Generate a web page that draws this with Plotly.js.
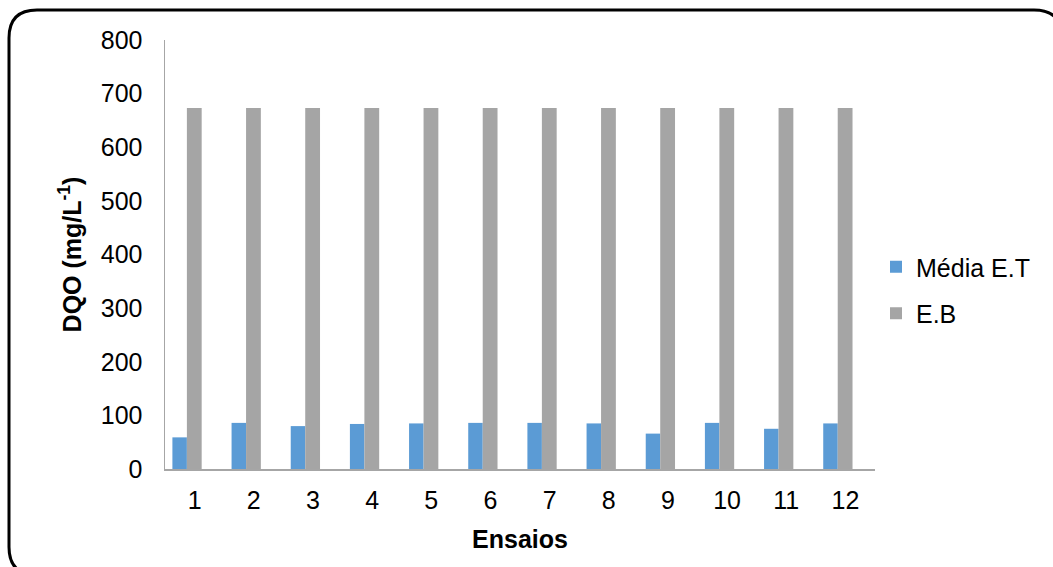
<!DOCTYPE html>
<html>
<head>
<meta charset="utf-8">
<script src="https://cdn.plot.ly/plotly-3.0.1.min.js"></script>
<style>
html,body{margin:0;padding:0;background:#fff;}
#chart{width:1053px;height:567px;}
</style>
</head>
<body>
<div id="chart"></div>
<script>
const categories = ['1','2','3','4','5','6','7','8','9','10','11','12'];
const mediaET = [59, 86, 80, 84, 85, 86, 86, 85, 66, 86, 75, 85];
const eb = [673, 673, 673, 673, 673, 673, 673, 673, 673, 673, 673, 673];
const yTicks = [0, 100, 200, 300, 400, 500, 600, 700, 800];

const W = 1053, H = 567;
const M = {l: 165, r: 178, t: 40, b: 98};
const pw = W - M.l - M.r, ph = H - M.t - M.b;
function px2x(p){ return (p - M.l) / pw; }
function py2y(p){ return 1 - (p - M.t) / ph; }

// rounded outer border
const bx0 = 9, by0 = 10, bx1 = 1062, by1 = 575, r = 28;
const borderPath =
  'M ' + px2x(bx0 + r) + ' ' + py2y(by0) +
  ' L ' + px2x(bx1 - r) + ' ' + py2y(by0) +
  ' Q ' + px2x(bx1) + ' ' + py2y(by0) + ' ' + px2x(bx1) + ' ' + py2y(by0 + r) +
  ' L ' + px2x(bx1) + ' ' + py2y(by1 - r) +
  ' Q ' + px2x(bx1) + ' ' + py2y(by1) + ' ' + px2x(bx1 - r) + ' ' + py2y(by1) +
  ' L ' + px2x(bx0 + r) + ' ' + py2y(by1) +
  ' Q ' + px2x(bx0) + ' ' + py2y(by1) + ' ' + px2x(bx0) + ' ' + py2y(by1 - r) +
  ' L ' + px2x(bx0) + ' ' + py2y(by0 + r) +
  ' Q ' + px2x(bx0) + ' ' + py2y(by0) + ' ' + px2x(bx0 + r) + ' ' + py2y(by0) + ' Z';

const font = 'Liberation Sans, Arial, sans-serif';
const FS = 25;

const traces = [
  {type: 'bar', name: 'Média E.T', x: categories, y: mediaET,
   marker: {color: '#5B9BD5'}, legendgroup: 'a', offset: -0.375, width: 0.245},
  {type: 'bar', name: 'E.B', x: categories, y: eb,
   marker: {color: '#A5A5A5'}, legendgroup: 'b', offset: -0.13, width: 0.25}
];

const layout = {
  width: W, height: H,
  margin: M,
  paper_bgcolor: 'rgba(0,0,0,0)',
  plot_bgcolor: 'rgba(0,0,0,0)',
  barmode: 'group',
  bargap: 0.5,
  bargroupgap: 0,
  font: {family: font, size: FS, color: '#000'},
  xaxis: {
    type: 'category',
    showline: true, linecolor: '#A6A6A6', linewidth: 1.5,
    showgrid: false, ticks: '', zeroline: false,
    tickfont: {size: FS, color: '#000'},
    ticklabelstandoff: 8,
    title: {text: 'Ensaios', font: {size: FS, weight: 'bold', color: '#000'}, standoff: 18},
    automargin: false
  },
  yaxis: {
    range: [0, 800],
    tickvals: yTicks,
    showline: true, linecolor: '#A6A6A6', linewidth: 1.5,
    showgrid: false, ticks: '', zeroline: false,
    tickfont: {size: FS, color: '#000'},
    ticklabelstandoff: 16,
    title: {text: 'DQO (mg/L<sup>-1</sup>)', font: {size: FS, weight: 'bold', color: '#000'}, standoff: 12},
    automargin: false
  },
  legend: {
    x: px2x(876), y: py2y(244), xanchor: 'left', yanchor: 'top',
    font: {size: FS, color: '#000'},
    itemwidth: 30,
    tracegroupgap: 11,
    traceorder: 'grouped',
    bgcolor: 'rgba(0,0,0,0)'
  },
  shapes: [{
    type: 'path', xref: 'paper', yref: 'paper', path: borderPath,
    line: {color: '#000', width: 3}, fillcolor: 'rgba(0,0,0,0)', layer: 'below'
  }]
};

Plotly.newPlot('chart', traces, layout, {displayModeBar: false, staticPlot: true});
</script>
</body>
</html>
